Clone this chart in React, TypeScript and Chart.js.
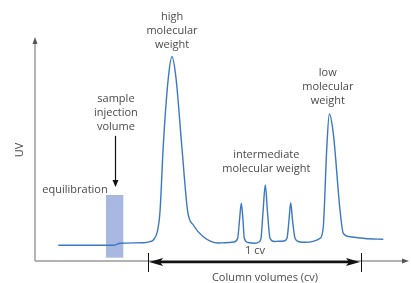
import React, { useEffect, useRef } from "react";
import { Chart, registerables } from "chart.js";

Chart.register(...registerables);

// Elution volume (arbitrary units) and UV absorbance (arbitrary units)
const elutionVolume = [
  6.25, 12.06, 20.99, 22.79, 29.03, 30.83, 31.72, 32.79, 33.51, 34.4, 35.74, 36.73, 37.8, 39.33,
  40.94, 42.44, 45.12, 49.06, 50.94, 53.35, 54.34, 54.83, 55.31, 55.76, 56.11, 57.1, 58.98, 60.05,
  60.59, 61.13, 61.74, 62.33, 63.0, 64.08, 65.23, 66.76, 67.56, 68.1, 68.55, 69.03, 69.71, 70.78,
  72.39, 76.41, 77.29, 78.2, 78.9, 79.97, 81.77, 82.65, 84.45, 88.47, 93.38,
];
const uvAbsorbance = [
  7.04, 7.04, 7.04, 7.94, 8.21, 8.65, 9.42, 13.14, 22.11, 52.02, 82.06, 91.61, 82.06, 52.02,
  22.11, 16.14, 10.9, 8.07, 8.21, 8.52, 10.18, 18.39, 25.87, 18.39, 10.18, 8.3, 7.94, 8.52,
  10.18, 21.97, 34.08, 21.97, 10.18, 8.74, 8.83, 8.97, 10.18, 18.39, 26.19, 18.39, 10.18, 8.65,
  8.39, 10.18, 15.38, 49.78, 65.92, 57.26, 22.87, 12.42, 10.9, 10.09, 9.73,
];

// Sample injection band (x from/to, y from/to)
const injectionBand = [19.03, 23.67, 1.48, 29.6];
// One column volume marker (x start / end)
const oneCvRange = [30.3, 87.4];

const peakLabels = [
  { lines: ["high", "molecular", "weight"], x: 36.73, y: 109.4 },
  { lines: ["low", "molecular", "weight"], x: 78.5, y: 84.3 },
  { lines: ["intermediate", "molecular weight"], x: 62.0, y: 47.5 },
  { lines: ["sample", "injection", "volume"], x: 21.7, y: 72.7 },
];
const axisTitleX = "Column volumes (cv)";
const axisTitleY = "UV";
const equilibrationLabel = "equilibration";
const cvLabel = "1 cv";

const FONT = '11px "Open Sans", sans-serif';
const TEXT = "#4a4a4a";

const annotationPlugin = {
  id: "schematic",
  beforeDatasetsDraw(chart: any) {
    const { ctx, scales } = chart;
    const xs = scales.x, ys = scales.y;
    const [bx0, bx1, by0, by1] = injectionBand;
    const l = xs.getPixelForValue(bx0), r = xs.getPixelForValue(bx1);
    const t = ys.getPixelForValue(by1), b = ys.getPixelForValue(by0);
    ctx.save();
    ctx.fillStyle = "#a9b8e0";
    ctx.fillRect(l, t, r - l, b - t);
    ctx.restore();
  },
  afterDraw(chart: any) {
    const { ctx, chartArea, scales } = chart;
    const xs = scales.x, ys = scales.y;
    const L = chartArea.left, R = chartArea.right, T = chartArea.top, B = chartArea.bottom;
    ctx.save();
    // axes
    ctx.strokeStyle = "#9a9a9a";
    ctx.lineWidth = 1.5;
    ctx.beginPath();
    ctx.moveTo(L, B);
    ctx.lineTo(L, T + 4);
    ctx.moveTo(L, B);
    ctx.lineTo(R - 4, B);
    ctx.stroke();
    ctx.fillStyle = "#555";
    ctx.beginPath();
    ctx.moveTo(L, T - 1);
    ctx.lineTo(L - 2.5, T + 6);
    ctx.lineTo(L + 2.5, T + 6);
    ctx.closePath();
    ctx.fill();
    ctx.beginPath();
    ctx.moveTo(R + 1, B);
    ctx.lineTo(R - 6, B - 2.5);
    ctx.lineTo(R - 6, B + 2.5);
    ctx.closePath();
    ctx.fill();

    // 1 cv double arrow
    const a = xs.getPixelForValue(oneCvRange[0]);
    const c = xs.getPixelForValue(oneCvRange[1]);
    const yA = B + 1;
    ctx.strokeStyle = "#111";
    ctx.fillStyle = "#111";
    ctx.lineWidth = 2.5;
    ctx.beginPath();
    ctx.moveTo(a + 10, yA);
    ctx.lineTo(c - 10, yA);
    ctx.stroke();
    ctx.beginPath();
    ctx.moveTo(a + 1, yA);
    ctx.lineTo(a + 15, yA - 4);
    ctx.lineTo(a + 12, yA);
    ctx.lineTo(a + 15, yA + 4);
    ctx.closePath();
    ctx.fill();
    ctx.beginPath();
    ctx.moveTo(c - 1, yA);
    ctx.lineTo(c - 15, yA - 4);
    ctx.lineTo(c - 12, yA);
    ctx.lineTo(c - 15, yA + 4);
    ctx.closePath();
    ctx.fill();
    ctx.lineWidth = 1;
    ctx.beginPath();
    ctx.moveTo(Math.round(a) + 0.5, yA - 9);
    ctx.lineTo(Math.round(a) + 0.5, yA + 10);
    ctx.moveTo(Math.round(c) + 0.5, yA - 9);
    ctx.lineTo(Math.round(c) + 0.5, yA + 10);
    ctx.stroke();

    // injection arrow
    const inj = peakLabels[3];
    const ix = Math.round(xs.getPixelForValue((injectionBand[0] + injectionBand[1]) / 2)) + 0.5;
    ctx.lineWidth = 1.2;
    ctx.beginPath();
    ctx.moveTo(ix, ys.getPixelForValue(inj.y) + 37);
    ctx.lineTo(ix, ys.getPixelForValue(injectionBand[3]) - 12);
    ctx.stroke();
    const tipY = ys.getPixelForValue(injectionBand[3]) - 8;
    ctx.beginPath();
    ctx.moveTo(ix, tipY);
    ctx.lineTo(ix - 3, tipY - 7);
    ctx.lineTo(ix + 3, tipY - 7);
    ctx.closePath();
    ctx.fill();

    // texts
    ctx.font = FONT;
    ctx.fillStyle = TEXT;
    ctx.textAlign = "center";
    ctx.textBaseline = "middle";
    for (const p of peakLabels) {
      const px = xs.getPixelForValue(p.x);
      const py = ys.getPixelForValue(p.y);
      p.lines.forEach((ln, i) => ctx.fillText(ln, px, py + i * 14));
    }
    ctx.fillText(equilibrationLabel, 75, ys.getPixelForValue(32));
    ctx.fillText(cvLabel, (a + c) / 2 + 0.5, B - 10);
    ctx.fillText(axisTitleX, 265, B + 17);
    ctx.translate(20, 150);
    ctx.rotate(-Math.PI / 2);
    ctx.fillText(axisTitleY, 0, 0);
    ctx.restore();
  },
};

export default function App() {
  const ref = useRef<HTMLCanvasElement>(null);
  useEffect(() => {
    if (!ref.current) return;
    const chart = new Chart(ref.current, {
      type: "line",
      data: {
        datasets: [
          {
            data: elutionVolume.map((x, i) => ({ x, y: uvAbsorbance[i] })),
            borderColor: "#3a78c4",
            borderWidth: 1.4,
            pointRadius: 0,
            cubicInterpolationMode: "monotone",
            fill: false,
          },
        ],
      },
      options: {
        animation: false,
        responsive: false,
        events: [],
        layout: { padding: { left: 35, right: 3, top: 38, bottom: 22 } },
        plugins: { legend: { display: false }, tooltip: { enabled: false } },
        scales: {
          x: { type: "linear", min: 0, max: 100, display: false },
          y: { type: "linear", min: 0, max: 100, display: false },
        },
      },
      plugins: [annotationPlugin],
    });
    return () => chart.destroy();
  }, []);
  return (
    <div style={{ position: "fixed", left: 0, top: 0, width: 411, height: 283, background: "#fff" }}>
      <canvas ref={ref} width={411} height={283} />
    </div>
  );
}
